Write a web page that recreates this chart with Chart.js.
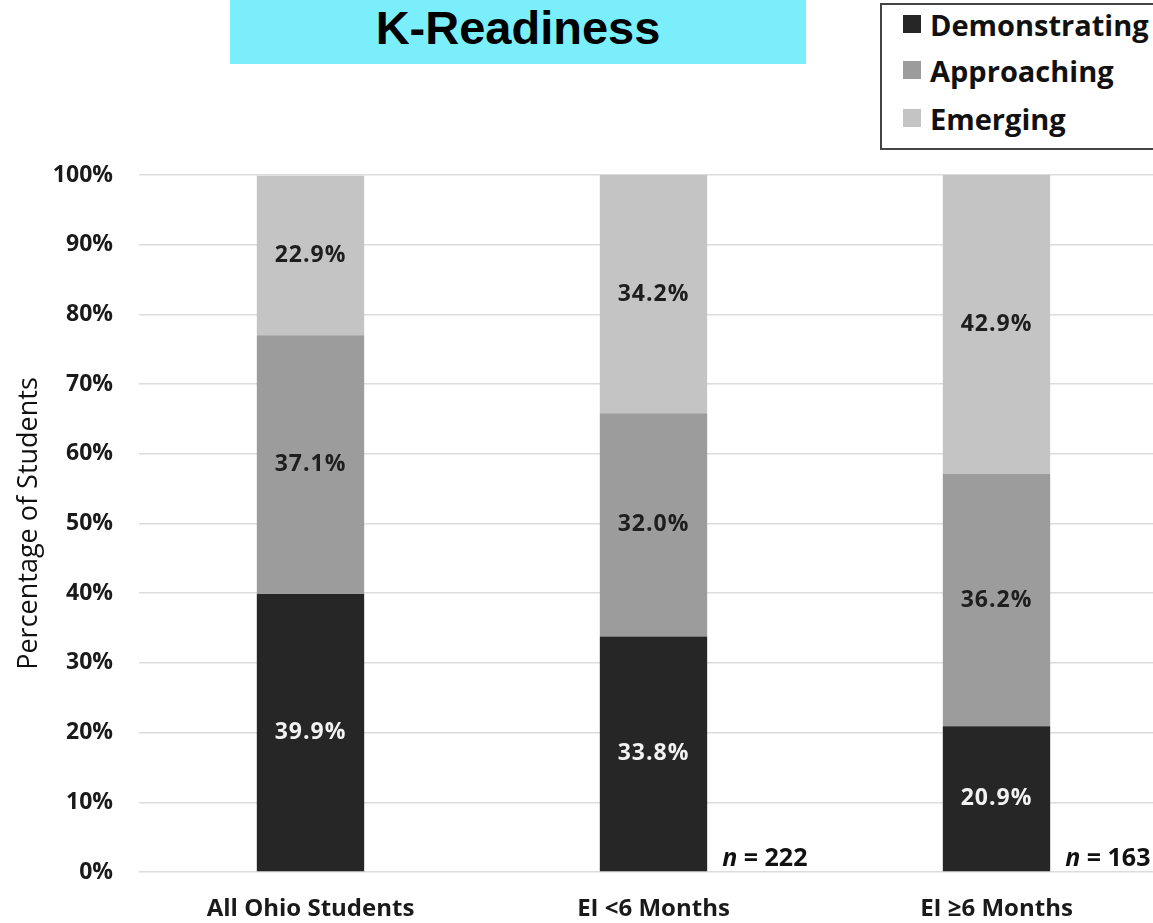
<!DOCTYPE html>
<html>
<head>
<meta charset="utf-8">
<script src="https://cdn.jsdelivr.net/npm/chart.js@4.4.1/dist/chart.umd.min.js"></script>
<style>
  html, body { margin: 0; padding: 0; background: #fff; overflow: hidden; width: 1153px; height: 923px; }
  #wrap { position: relative; width: 1170px; height: 923px; }
  #chart { position: absolute; left: 0; top: 0; }
  #title {
    position: absolute; left: 230px; top: 0; width: 576px; height: 64px;
    background: #7beefc; color: #000;
    font: bold 47px "Liberation Sans", Arial, sans-serif;
    text-align: center; line-height: 56px;
  }
  #legend {
    position: absolute; left: 880px; top: 3px; width: 290px; height: 147px;
    border: 2px solid #444; box-sizing: border-box; background: #fff;
  }
  .item { position: absolute; left: 21px; height: 30px; display: flex; align-items: center;
    font: bold 29px "Open Sans", sans-serif; color: #111; }
  .swatch { width: 18px; height: 18px; margin-right: 9px; }
</style>
</head>
<body>
<div id="wrap">
  <canvas id="chart" width="1170" height="923"></canvas>
  <div id="title">K-Readiness</div>
  <div id="legend"></div>
</div>
<script>
// Groups compared
const categories = ['All Ohio Students', 'EI <6 Months', 'EI \u22656 Months'];
// Share of students at each readiness level (%)
const demonstrating = [39.9, 33.8, 20.9];
const approaching = [37.1, 32.0, 36.2];
const emerging = [22.9, 34.2, 42.9];
// Sample sizes shown beside the bars (none for the state-wide group)
const sampleSizes = [null, 222, 163];
const yTicks = [0, 10, 20, 30, 40, 50, 60, 70, 80, 90, 100];

const seriesNames = ['Demonstrating', 'Approaching', 'Emerging'];
const seriesColors = ['#262626', '#9c9c9c', '#c4c4c4'];
const labelColors = ['#f2f2f2', '#1e1e1e', '#1e1e1e'];
const seriesValues = [demonstrating, approaching, emerging];

// Legend (listed top to bottom in stacking order)
const legendEl = document.getElementById('legend');
const legendTops = [4, 50, 98];
seriesNames.forEach((name, i) => {
  const it = document.createElement('div');
  it.className = 'item';
  it.style.top = legendTops[i] + 'px';
  const sw = document.createElement('span');
  sw.className = 'swatch';
  sw.style.background = seriesColors[i];
  it.appendChild(sw);
  it.appendChild(document.createTextNode(name));
  legendEl.appendChild(it);
});

// Writes the value in the middle of each segment
const segmentLabels = {
  id: 'segmentLabels',
  afterDatasetsDraw(chart) {
    const ctx = chart.ctx;
    ctx.save();
    ctx.font = 'bold 23px "Open Sans", sans-serif';
    if ('letterSpacing' in ctx) ctx.letterSpacing = '1px';
    ctx.textAlign = 'center';
    ctx.textBaseline = 'middle';
    chart.data.datasets.forEach((ds, di) => {
      const meta = chart.getDatasetMeta(di);
      meta.data.forEach((bar, i) => {
        const midY = (bar.y + bar.base) / 2;
        ctx.fillStyle = labelColors[di];
        ctx.fillText(ds.data[i].toFixed(1) + '%', bar.x, midY);
      });
    });
    ctx.restore();
  }
};

// Sample size notes to the right of each bar's base
const sampleNotes = {
  id: 'sampleNotes',
  afterDatasetsDraw(chart) {
    const ctx = chart.ctx;
    const meta = chart.getDatasetMeta(0);
    const yBase = chart.scales.y.getPixelForValue(0);
    ctx.save();
    ctx.fillStyle = '#111';
    ctx.textBaseline = 'alphabetic';
    ctx.textAlign = 'left';
    sampleSizes.forEach((n, i) => {
      if (n == null) return;
      const bar = meta.data[i];
      let x = bar.x + bar.width / 2 + 15;
      const y = yBase - 6;
      ctx.font = 'italic bold 25px "Open Sans", sans-serif';
      ctx.fillText('n', x, y);
      x += ctx.measureText('n').width;
      ctx.font = 'bold 25px "Open Sans", sans-serif';
      ctx.fillText(' = ' + n, x, y);
    });
    ctx.restore();
  }
};

new Chart(document.getElementById('chart'), {
  type: 'bar',
  data: {
    labels: categories,
    datasets: seriesNames.map((name, i) => ({
      label: name,
      data: seriesValues[i],
      backgroundColor: seriesColors[i],
      borderWidth: 0,
      barPercentage: 0.313,
      categoryPercentage: 1.0
    }))
  },
  options: {
    responsive: false,
    animation: false,
    events: [],
    layout: { padding: { top: 175, right: 2, left: 0, bottom: 0 } },
    plugins: { legend: { display: false }, title: { display: false }, tooltip: { enabled: false } },
    scales: {
      x: {
        stacked: true,
        grid: { display: false, drawTicks: false },
        border: { display: false },
        ticks: {
          color: '#1a1a1a',
          font: { family: '"Open Sans", sans-serif', size: 24, weight: 'bold' },
          padding: 23,
          maxRotation: 0
        },
        afterFit(scale) { scale.height = 51; }
      },
      y: {
        stacked: true,
        min: 0,
        max: 100,
        afterBuildTicks(scale) { scale.ticks = yTicks.map(v => ({ value: v })); },
        grid: { color: '#dcdcdc', lineWidth: 1.5, drawTicks: false },
        border: { display: false },
        ticks: {
          color: '#1a1a1a',
          font: { family: '"Open Sans", sans-serif', size: 23, weight: 'bold' },
          padding: 26,
          callback: v => v + '%'
        },
        title: {
          display: true,
          text: 'Percentage of Students',
          color: '#111',
          font: { family: '"Open Sans", sans-serif', size: 27, weight: 'normal' },
          padding: { top: 13, bottom: 0 }
        },
        afterFit(scale) { scale.width = 139; }
      }
    }
  },
  plugins: [segmentLabels, sampleNotes]
});
</script>
</body>
</html>
